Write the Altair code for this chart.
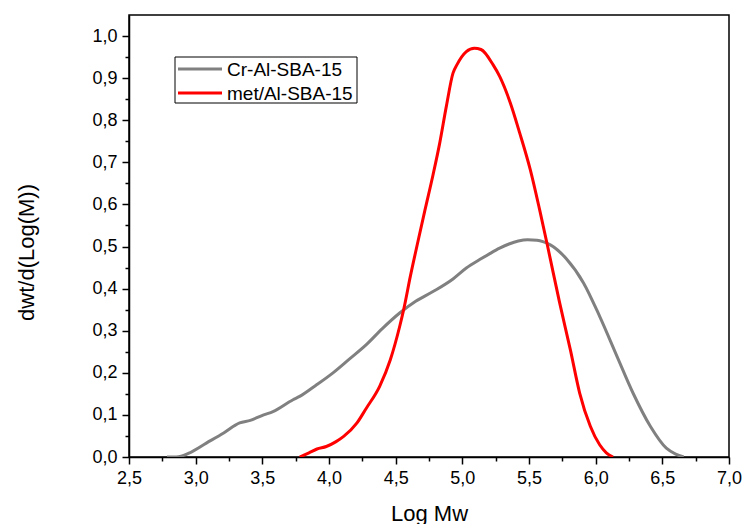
import altair as alt
import pandas as pd
import json

series_names = ["Cr-Al-SBA-15", "met/Al-SBA-15"]
series_colors = ["#808080", "#ff0000"]

cr_x = [2.785, 2.855, 2.955, 3.08, 3.21, 3.33, 3.41, 3.51, 3.58, 3.73, 3.78, 3.9,
        4.03, 4.15, 4.28, 4.4, 4.53, 4.65, 4.78, 4.93, 5.03, 5.13, 5.2, 5.28, 5.35,
        5.42, 5.49, 5.56, 5.61, 5.66, 5.78, 5.91, 6.03, 6.16, 6.28, 6.41, 6.53, 6.6, 6.66]
cr_y = [0.0, 0.0, 0.01, 0.033, 0.057, 0.081, 0.087, 0.10, 0.108, 0.136, 0.144, 0.17,
        0.20, 0.232, 0.267, 0.305, 0.342, 0.37, 0.393, 0.423, 0.449, 0.469, 0.482, 0.496, 0.506,
        0.513, 0.516, 0.515, 0.511, 0.504, 0.471, 0.413, 0.334, 0.239, 0.152, 0.073, 0.021, 0.007, 0.0]

met_x = [3.78, 3.85, 3.91, 3.98, 4.05, 4.11, 4.21, 4.28, 4.38, 4.46, 4.53, 4.56,
         4.61, 4.67, 4.72, 4.78, 4.83, 4.88, 4.93, 4.96, 5.03, 5.09, 5.14, 5.23,
         5.28, 5.36, 5.43, 5.51, 5.58, 5.64, 5.73, 5.81, 5.88, 5.96, 6.03, 6.08, 6.13]
met_y = [0.0, 0.01, 0.019, 0.025, 0.036, 0.049, 0.081, 0.116, 0.168, 0.231, 0.31, 0.35,
         0.429, 0.516, 0.587, 0.67, 0.745, 0.833, 0.912, 0.932, 0.963, 0.971, 0.968, 0.932,
         0.904, 0.841, 0.77, 0.682, 0.587, 0.50, 0.366, 0.255, 0.152, 0.073, 0.029, 0.01, 0.0]

x_major = [2.5, 3.0, 3.5, 4.0, 4.5, 5.0, 5.5, 6.0, 6.5, 7.0]
x_minor = [2.75, 3.25, 3.75, 4.25, 4.75, 5.25, 5.75, 6.25, 6.75]
y_major = [0.0, 0.1, 0.2, 0.3, 0.4, 0.5, 0.6, 0.7, 0.8, 0.9, 1.0]
y_minor = [0.05, 0.15, 0.25, 0.35, 0.45, 0.55, 0.65, 0.75, 0.85, 0.95]

x_title = "Log Mw"
y_title = "dwt/d(Log(M))"

FONT = "Liberation Sans"

def is_major(vals):
    return "indexof(" + json.dumps(vals) + ", datum.value) >= 0"

def label_expr(vals):
    return is_major(vals) + " ? replace(format(datum.value, '.1f'), '.', ',') : ''"

x_scale = alt.Scale(domain=[2.5, 7.0], nice=False, zero=False)
y_scale = alt.Scale(domain=[0.0, 1.05], nice=False, zero=False)

x_axis = alt.Axis(
    values=sorted(x_major + x_minor), labelExpr=label_expr(x_major),
    tickSize={"condition": {"test": is_major(x_major), "value": 7}, "value": 4},
    tickColor="black", tickWidth=1.5, domainColor="black", domainWidth=1.5,
    labelFont=FONT, labelFontSize=18, labelColor="black", labelPadding=5,
    labelFlush=False, labelOverlap=False, grid=False,
    title=x_title, titleFont=FONT, titleFontSize=22, titleFontWeight="normal",
    titleColor="black", titleBaseline="alphabetic", titleY=63)

y_axis = alt.Axis(
    values=sorted(y_major + y_minor), labelExpr=label_expr(y_major),
    tickSize={"condition": {"test": is_major(y_major), "value": 7}, "value": 4},
    tickColor="black", tickWidth=1.5, domainColor="black", domainWidth=1.5,
    labelFont=FONT, labelFontSize=18, labelColor="black", labelPadding=5,
    labelFlush=False, labelOverlap=False, grid=False,
    title=y_title, titleFont=FONT, titleFontSize=22, titleFontWeight="normal",
    titleColor="black", titleAngle=-90, titleBaseline="middle", titleX=-103, titleY=237)

cr_df = pd.DataFrame({"x": cr_x, "y": cr_y, "series": series_names[0]})
met_df = pd.DataFrame({"x": met_x, "y": met_y, "series": series_names[1]})

def line_layer(df, color):
    return alt.Chart(df).mark_line(color=color, strokeWidth=3, interpolate="monotone", clip=True).encode(
        x=alt.X("x:Q", scale=x_scale, axis=x_axis),
        y=alt.Y("y:Q", scale=y_scale, axis=y_axis),
    )

layers = [line_layer(cr_df, series_colors[0]), line_layer(met_df, series_colors[1])]

# legend box (inside plot, upper left)
one = pd.DataFrame({"a": [0]})
layers.append(alt.Chart(one).mark_rect(fill="white", stroke="black", strokeWidth=1).encode(
    x=alt.value(46), x2=alt.value(228), y=alt.value(42), y2=alt.value(88)))
row_y = [54, 78]
for name, col, ry in zip(series_names, series_colors, row_y):
    layers.append(alt.Chart(one).mark_rule(color=col, strokeWidth=3).encode(
        x=alt.value(49), x2=alt.value(93), y=alt.value(ry)))
    layers.append(alt.Chart(one).mark_text(align="left", baseline="middle", font=FONT,
                                           fontSize=19, color="black").encode(
        x=alt.value(98), y=alt.value(ry + 1), text=alt.value(name)))

chart = alt.layer(*layers).properties(
    width=600, height=442,
    background="white",
    autosize=alt.AutoSizeParams(type="none"),
    padding={"left": 129, "top": 15, "right": 13, "bottom": 67},
).configure_view(stroke="black", strokeWidth=1.5)

chart.save("out.html", embed_options={"renderer": "svg", "actions": False})
